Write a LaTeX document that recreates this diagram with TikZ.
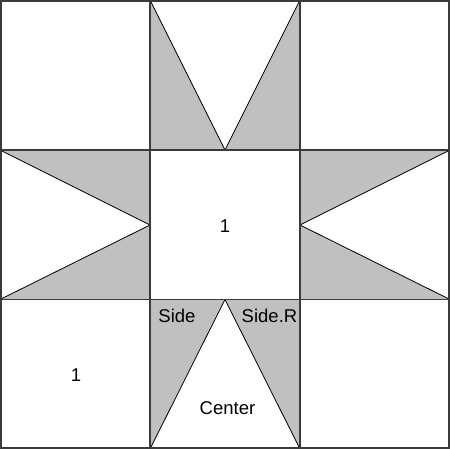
\documentclass[tikz,border=0pt]{standalone}
\usepackage{fontspec}
\setmainfont{Liberation Sans}
\definecolor{patchgray}{HTML}{C0C0C0}
\definecolor{seamgray}{HTML}{3A3A3A}

\begin{document}
\begin{tikzpicture}[x=1pt,y=-1pt,
  patch/.style={fill=patchgray,draw=black,line width=.8pt,line join=round},
  seam/.style={draw=seamgray,line width=1.6pt},
  piece/.style={font=\fontsize{18.5}{22}\selectfont,inner sep=0pt}]
\useasboundingbox (0,0) rectangle (450,449);
% star points
\path[patch] (150,0) -- (150,150) -- (225,150) -- cycle;
\path[patch] (300,0) -- (300,150) -- (225,150) -- cycle;
\path[patch] (0,150) -- (150,150) -- (150,225) -- cycle;
\path[patch] (0,299.5) -- (150,299.5) -- (150,225) -- cycle;
\path[patch] (450,150) -- (300,150) -- (300,225) -- cycle;
\path[patch] (450,299.5) -- (300,299.5) -- (300,225) -- cycle;
\path[patch] (150,299.5) -- (225,299.5) -- (150,449) -- cycle;
\path[patch] (300,299.5) -- (225,299.5) -- (300,449) -- cycle;
% block seams
\draw[seam] (.8,.8) rectangle (449.2,448.2);
\draw[seam] (150,0) -- (150,449);
\draw[seam] (300,0) -- (300,449);
\draw[seam] (0,150) -- (450,150);
\draw[seam] (0,299.5) -- (450,299.5);
% labels
\node[piece] (mid) at (225,226) {1};
\node[piece] (corner) at (76,375) {1};
\node[piece] (side) at (177,316) {Side};
\node[piece] (sideR) at (269.5,316) {Side.R};
\node[piece] (center) at (227.5,408) {Center};
\end{tikzpicture}
\end{document}
